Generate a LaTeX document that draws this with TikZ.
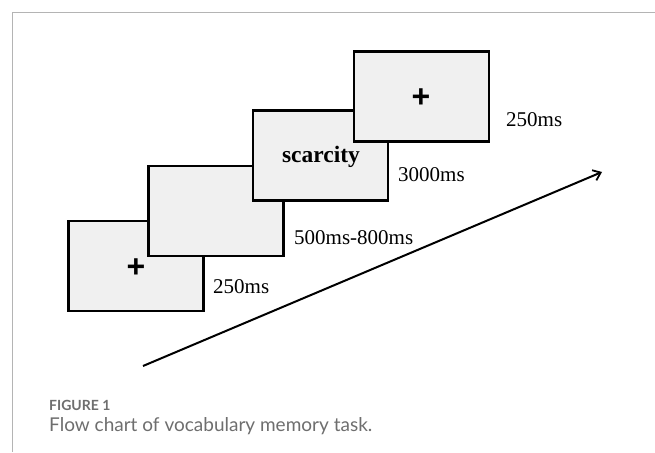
\documentclass[tikz,border=0pt]{standalone}
\usepackage{fontspec}
\setmainfont{Liberation Serif}
\newfontfamily\capfont{Lato}
\newfontfamily\plusfont{Liberation Sans}
\usetikzlibrary{arrows.meta}
\definecolor{boxfill}{HTML}{F0F0F0}
\definecolor{framegray}{HTML}{B4B4B4}
\definecolor{capgray}{HTML}{6E6E6E}
\tikzset{
  screen/.style={draw=black, line width=2.4pt, fill=boxfill, minimum width=135pt, minimum height=90pt, inner sep=0pt, outer sep=0pt},
  dur/.style={anchor=west, inner sep=0pt, font=\fontsize{21}{24}\selectfont},
  plus/.style={font=\plusfont\bfseries\fontsize{32}{32}\selectfont, inner sep=0pt},
}
\begin{document}
\begin{tikzpicture}[x=1pt,y=-1pt]
\useasboundingbox (0,0) rectangle (655,452);
\fill[white] (0,0) rectangle (655,452);
\draw[framegray, line width=1pt] (655,13) -- (12.5,13) -- (12.5,452);
\node[screen] (s1) at (136,266) {};
\node[screen] (s2) at (216,211) {};
\node[screen] (s3) at (320.5,155.5) {};
\node[screen] (s4) at (421.5,96.5) {};
\node[plus] (p1) at (136,268) {+};
\node[plus] (p4) at (421,98) {+};
\node[inner sep=0pt, font=\bfseries\fontsize{23.5}{26}\selectfont] (w) at (321,157) {scarcity};
\node[dur] (d1) at (213,287) {250ms};
\node[dur] (d2) at (294,238) {500ms-800ms};
\node[dur] (d3) at (398,175) {3000ms};
\node[dur] (d4) at (506,120) {250ms};
\coordinate (a0) at (143,366);
\coordinate (a1) at (602,172);
\draw[line width=2pt, -{Straight Barb[length=7pt,width=11pt,line width=1.8pt]}] (a0) -- (a1);
\node[anchor=base west, inner sep=0pt, text=capgray, font=\capfont\bfseries\fontsize{14}{16}\selectfont] (f) at (49,410) {FIGURE 1};
\node[anchor=base west, inner sep=0pt, text=capgray, font=\capfont\fontsize{19}{22}\selectfont] (c) at (49,431) {Flow chart of vocabulary memory task.};
\end{tikzpicture}
\end{document}
